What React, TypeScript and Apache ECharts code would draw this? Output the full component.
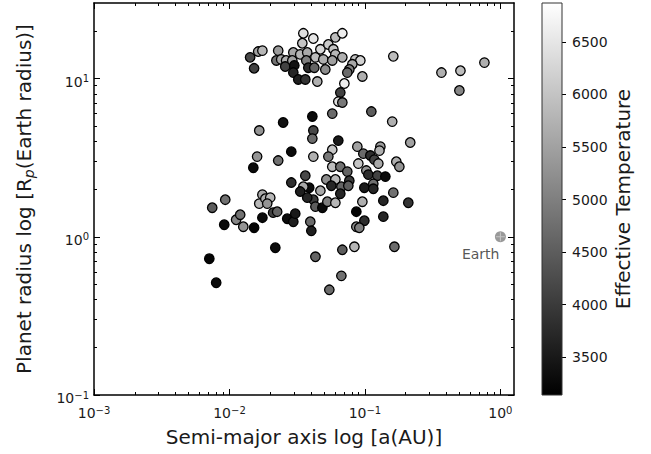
import React, { useEffect, useRef } from 'react';
import * as echarts from 'echarts';

// Semi-major axis [AU]
const semiMajorAxis = [
  0.0142, 0.0152, 0.0163, 0.0175, 0.0222, 0.0229, 0.0241, 0.0262, 0.0258, 0.0296,
  0.0291, 0.0301, 0.0296, 0.0322, 0.0363, 0.0351, 0.0416, 0.0345, 0.0333, 0.0375,
  0.0369, 0.0382, 0.0431, 0.0423, 0.0469, 0.0493, 0.0510, 0.0445, 0.0537, 0.0605,
  0.0681, 0.0585, 0.0605, 0.0574, 0.0681, 0.0849, 0.0925, 0.0807, 0.0767, 0.0741,
  0.0957, 0.0705, 0.0658, 0.0636, 0.0681, 0.0574, 0.0409, 0.162, 0.367, 0.507,
  0.498, 0.762, 0.1115, 0.159, 0.0416, 0.0409, 0.0636, 0.216, 0.0879, 0.130,
  0.128, 0.0574, 0.0416, 0.0537, 0.0973, 0.1096, 0.1173, 0.1256, 0.0894, 0.1705,
  0.1795, 0.0574, 0.0658, 0.0741, 0.1024, 0.1059, 0.1235, 0.1415, 0.0363, 0.0519,
  0.0605, 0.0767, 0.0565, 0.0670, 0.0754, 0.1153, 0.0990, 0.1153, 0.0469, 0.0388,
  0.0351, 0.0333, 0.0286, 0.0658, 0.162, 0.1367, 0.209, 0.0957, 0.0864, 0.0990,
  0.1367, 0.0864, 0.0909, 0.0395, 0.0402, 0.0431, 0.0681, 0.0836, 0.165, 0.0670,
  0.0546, 0.0166, 0.0249, 0.0160, 0.0150, 0.0229, 0.0286, 0.0416, 0.0375, 0.0431,
  0.0485, 0.0528, 0.0605, 0.0175, 0.0166, 0.0184, 0.0200, 0.0190, 0.0210, 0.0225,
  0.0267, 0.0296, 0.0306, 0.00746, 0.00931, 0.00915, 0.0112, 0.0120, 0.01265, 0.0152,
  0.0175, 0.0071, 0.00798, 0.0218,
];

// Planet radius [Earth radius]
const planetRadius = [
  13.6, 11.6, 14.8, 15.0, 13.0, 15.0, 13.2, 13.0, 11.9, 14.6,
  13.0, 12.1, 10.9, 9.86, 9.86, 19.3, 17.9, 16.7, 14.2, 14.6,
  13.0, 11.7, 13.6, 11.7, 15.3, 13.2, 11.4, 9.57, 16.4, 18.2,
  19.3, 15.3, 14.2, 13.0, 13.6, 13.2, 13.0, 12.3, 11.4, 10.9,
  10.3, 9.30, 8.15, 7.15, 7.05, 6.00, 5.75, 13.8, 10.9, 11.2,
  8.40, 12.6, 6.18, 5.34, 4.69, 4.17, 4.05, 3.94, 3.71, 3.71,
  3.50, 3.55, 3.21, 3.21, 3.35, 3.26, 3.07, 2.90, 2.90, 2.98,
  2.77, 2.77, 2.77, 2.58, 2.62, 2.47, 2.43, 2.40, 2.43, 2.30,
  2.30, 2.26, 2.10, 2.07, 2.10, 2.16, 2.04, 2.01, 1.955, 2.04,
  2.07, 1.93, 2.20, 1.87, 1.90, 1.69, 1.64, 1.665, 1.44, 1.263,
  1.34, 1.157, 1.14, 1.244, 1.09, 0.747, 0.827, 0.864, 0.864, 0.566,
  0.462, 4.69, 5.27, 3.21, 2.73, 3.03, 3.45, 1.715, 1.766, 1.55,
  1.526, 1.665, 1.64, 1.845, 1.62, 1.74, 1.766, 1.62, 1.42, 1.44,
  1.30, 1.244, 1.40, 1.526, 1.715, 1.191, 1.28, 1.378, 1.157, 1.14,
  1.32, 0.726, 0.512, 0.852,
];

// Stellar effective temperature [K]
const effectiveTemp = [
  4200, 4100, 5500, 5800, 4800, 5400, 5600, 5700, 4100, 5600,
  5500, 3400, 3700, 3600, 3900, 6400, 6500, 6000, 5800, 5600,
  5000, 3800, 5900, 4600, 6300, 5700, 5200, 5700, 6100, 5900,
  6600, 6000, 5800, 5500, 5700, 6000, 6200, 5600, 5000, 4700,
  5700, 6600, 4100, 6400, 4900, 4700, 3300, 5900, 5700, 5900,
  5100, 5700, 4500, 5700, 4200, 4700, 3500, 5500, 5500, 5400,
  5700, 6000, 5700, 4900, 4700, 3800, 4100, 5600, 6000, 5700,
  5300, 5900, 4800, 4600, 5300, 3800, 4100, 3300, 4200, 5200,
  5800, 4000, 3700, 4600, 4500, 4800, 3500, 3700, 5600, 3300,
  5600, 3600, 3800, 3700, 4800, 3700, 3900, 5700, 3200, 3800,
  3700, 5200, 5000, 4700, 3600, 4600, 4500, 5800, 4700, 4800,
  4700, 5300, 3400, 5300, 3300, 4800, 3300, 4000, 3700, 4500,
  3300, 5000, 5800, 5600, 5800, 5700, 5800, 5300, 4100, 4600,
  3300, 3600, 3500, 4500, 4800, 3300, 5100, 4800, 5300, 3200,
  3300, 3200, 3300, 3300,
];

const earthPoint = [1.0, 1.0];
const earthLabel = 'Earth';

const xRange = [0.001, 1.26];
const yRange = [0.1, 30];
const tempRange = [3140, 6870];

const xMajorTicks = [0.001, 0.01, 0.1, 1];
const xMinorTicks = [
  0.002, 0.003, 0.004, 0.005, 0.006, 0.007, 0.008, 0.009,
  0.02, 0.03, 0.04, 0.05, 0.06, 0.07, 0.08, 0.09,
  0.2, 0.3, 0.4, 0.5, 0.6, 0.7, 0.8, 0.9,
];
const yMajorTicks = [0.1, 1, 10];
const yMinorTicks = [
  0.2, 0.3, 0.4, 0.5, 0.6, 0.7, 0.8, 0.9,
  2, 3, 4, 5, 6, 7, 8, 9,
  20,
];
const tempTicks = [3500, 4000, 4500, 5000, 5500, 6000, 6500];

const FONT = "'DejaVu Sans', sans-serif";
const TEXT = '#1a1a1a';

const lg = (v: number) => Math.log10(v);

const powLabel = (v: number) => {
  const e = Math.round(v);
  return `{b|10}{s|${e < 0 ? '\u2212' + -e : e}}`;
};
const powRich = {
  b: { fontSize: 14, lineHeight: 16, fontFamily: FONT, color: TEXT },
  s: { fontSize: 10, lineHeight: 8, verticalAlign: 'top', fontFamily: FONT, color: TEXT },
};

function decoAxis(opts: {
  position: string;
  range: number[];
  ticks: number[];
  length: number;
  line: boolean;
  labels: boolean;
  extra?: any;
}) {
  const { position, range, ticks, length, line, labels, extra } = opts;
  return {
    type: 'value',
    gridIndex: 0,
    position,
    min: lg(range[0]),
    max: lg(range[1]),
    axisLine: { show: line, onZero: false, lineStyle: { color: '#000', width: 1.5 } },
    axisTick: {
      show: true,
      inside: true,
      length,
      customValues: ticks.map(lg),
      lineStyle: { color: '#000', width: 1 },
    },
    axisLabel: labels
      ? {
          show: true,
          customValues: ticks.map(lg),
          formatter: powLabel,
          rich: powRich,
          ...(extra?.label || {}),
        }
      : { show: false },
    splitLine: { show: false },
    ...(extra?.axis || {}),
  };
}

export default function App() {
  const ref = useRef<HTMLDivElement>(null);

  useEffect(() => {
    if (!ref.current) return;
    const chart = echarts.init(ref.current, undefined, { renderer: 'svg' });

    const points = semiMajorAxis.map((a, i) => [a, planetRadius[i], effectiveTemp[i]]);

    const option: any = {
      animation: false,
      backgroundColor: '#fff',
      textStyle: { fontFamily: FONT, color: TEXT },
      grid: [
        { left: 94, top: 3, width: 420, height: 392 },
        { left: 542, top: 3, width: 20, height: 392 },
      ],
      xAxis: [
        { type: 'log', logBase: 10, gridIndex: 0, min: xRange[0], max: xRange[1], show: false },
        decoAxis({
          position: 'bottom', range: xRange, ticks: xMajorTicks, length: 6, line: true, labels: true,
          extra: {
            label: { margin: 10 },
            axis: {
              name: 'Semi-major axis log [a(AU)]',
              nameLocation: 'middle',
              nameGap: 32,
              nameTextStyle: { fontSize: 20, fontFamily: FONT, color: TEXT },
            },
          },
        }),
        decoAxis({ position: 'bottom', range: xRange, ticks: xMinorTicks, length: 3, line: false, labels: false }),
        decoAxis({ position: 'top', range: xRange, ticks: xMajorTicks, length: 6, line: true, labels: false }),
        decoAxis({ position: 'top', range: xRange, ticks: xMinorTicks, length: 3, line: false, labels: false }),
        { type: 'value', gridIndex: 1, min: 0, max: 1, show: false },
      ],
      yAxis: [
        { type: 'log', logBase: 10, gridIndex: 0, min: yRange[0], max: yRange[1], show: false },
        decoAxis({
          position: 'left', range: yRange, ticks: yMajorTicks, length: 6, line: true, labels: true,
          extra: {
            label: { margin: 5, padding: [6, 0, 0, 0] },
            axis: {
              name: 'Planet radius log [R{sub|p}(Earth radius)]',
              nameLocation: 'middle',
              nameGap: 58,
              nameRotate: 90,
              nameTextStyle: {
                fontSize: 20,
                lineHeight: 24,
                fontFamily: FONT,
                color: TEXT,
                rich: {
                  sub: { fontSize: 14, lineHeight: 14, fontStyle: 'italic', verticalAlign: 'bottom', fontFamily: FONT, color: TEXT },
                },
              },
            },
          },
        }),
        decoAxis({ position: 'left', range: yRange, ticks: yMinorTicks, length: 3, line: false, labels: false }),
        decoAxis({ position: 'right', range: yRange, ticks: yMajorTicks, length: 6, line: true, labels: false }),
        decoAxis({ position: 'right', range: yRange, ticks: yMinorTicks, length: 3, line: false, labels: false }),
        {
          type: 'value',
          gridIndex: 1,
          position: 'right',
          min: tempRange[0],
          max: tempRange[1],
          axisLine: { show: false, onZero: false },
          axisTick: {
            show: true,
            inside: false,
            length: 4,
            customValues: tempTicks,
            lineStyle: { color: '#000', width: 1 },
          },
          axisLabel: {
            show: true,
            customValues: tempTicks,
            formatter: (v: number) => String(Math.round(v)),
            margin: 10,
            fontSize: 14,
            fontFamily: FONT,
            color: TEXT,
          },
          splitLine: { show: false },
          name: 'Effective Temperature',
          nameLocation: 'middle',
          nameRotate: 90,
          nameGap: 51,
          nameTextStyle: { fontSize: 20, fontFamily: FONT, color: TEXT },
        },
      ],
      visualMap: {
        type: 'continuous',
        show: false,
        seriesIndex: 0,
        dimension: 2,
        min: tempRange[0],
        max: tempRange[1],
        inRange: { color: ['#000000', '#ffffff'] },
      },
      series: [
        {
          type: 'scatter',
          xAxisIndex: 0,
          yAxisIndex: 0,
          data: points,
          symbol: 'circle',
          symbolSize: 9.5,
          itemStyle: { borderColor: '#000', borderWidth: 1.3, opacity: 1 },
          z: 3,
        },
        {
          type: 'scatter',
          xAxisIndex: 0,
          yAxisIndex: 0,
          data: [earthPoint],
          symbol: 'circle',
          symbolSize: 11,
          itemStyle: { color: '#7f7f7f' },
          label: {
            show: true,
            formatter: earthLabel,
            position: [-33, 23],
            align: 'left',
            verticalAlign: 'middle',
            fontSize: 14,
            fontFamily: FONT,
            color: '#2a2a2a',
          },
          z: 4,
        },
        {
          type: 'scatter',
          xAxisIndex: 0,
          yAxisIndex: 0,
          data: [earthPoint],
          symbol: 'path://M4.4,0H5.6V4.4H10V5.6H5.6V10H4.4V5.6H0V4.4H4.4Z',
          symbolSize: 9,
          itemStyle: { color: '#d0d0d0' },
          z: 5,
        },
        {
          type: 'custom',
          xAxisIndex: 5,
          yAxisIndex: 5,
          clip: false,
          encode: { x: [0, 2], y: [1, 3] },
          data: [[0, tempRange[0], 1, tempRange[1]]],
          renderItem: (params: any, api: any) => {
            const p0 = api.coord([api.value(0), api.value(1)]);
            const p1 = api.coord([api.value(2), api.value(3)]);
            return {
              type: 'rect',
              shape: { x: p0[0], y: p1[1], width: p1[0] - p0[0], height: p0[1] - p1[1] },
              style: {
                fill: new echarts.graphic.LinearGradient(0, 0, 0, 1, [
                  { offset: 0, color: '#ffffff' },
                  { offset: 1, color: '#000000' },
                ]),
                stroke: '#333',
                lineWidth: 1,
              },
            };
          },
        },
      ],
    };

    chart.setOption(option);
    return () => chart.dispose();
  }, []);

  return <div ref={ref} style={{ width: 651, height: 454, position: 'absolute', left: 0, top: 0 }} />;
}
